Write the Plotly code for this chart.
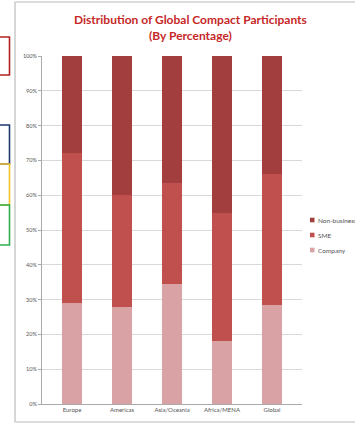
import plotly.graph_objects as go

categories = ["Europe", "Americas", "Asia/Oceania", "Africa/MENA", "Global"]
company = [29, 28, 34.5, 18, 28.5]
sme = [43, 32, 29, 37, 37.5]
non_business = [28, 40, 36.5, 45, 34]
series_names = ["Company", "SME", "Non-business"]
colors = ["#D9A3A6", "#C0504D", "#A33E3E"]
y_ticks = [0, 10, 20, 30, 40, 50, 60, 70, 80, 90, 100]
y_tick_labels = [f"{v}%" for v in y_ticks]

W, H = 355, 425
L, R, T, B = 42, 53, 56, 21
pw, ph = W - L - R, H - T - B

def px(x):
    return (x - L) / pw

def py(y):
    return (H - B - y) / ph

fig = go.Figure()
for name, vals, col in zip(series_names, [company, sme, non_business], colors):
    fig.add_trace(go.Bar(x=categories, y=vals, name=name, marker_color=col,
                         marker_line_width=0, width=0.4, showlegend=False))

shapes = []
annotations = []
# slide frame
shapes.append(dict(type="line", xref="paper", yref="paper", x0=px(15), x1=px(15), y0=py(2), y1=py(422),
                   line=dict(color="#C8C8C8", width=1.5)))
shapes.append(dict(type="line", xref="paper", yref="paper", x0=px(15), x1=px(356), y0=py(2), y1=py(2),
                   line=dict(color="#D0D0D0", width=1.5)))
shapes.append(dict(type="line", xref="paper", yref="paper", x0=px(15), x1=px(356), y0=py(422), y1=py(422),
                   line=dict(color="#D0D0D0", width=1.5)))
# decorative boxes at left edge
for (y0, y1, c) in [(37, 75, "#B22222"), (125, 164, "#1F3A6E"), (164, 205, "#F2C12E"), (205, 245, "#2EAE4E")]:
    shapes.append(dict(type="rect", xref="paper", yref="paper", x0=px(-5), x1=px(9.5), y0=py(y0), y1=py(y1),
                       line=dict(color=c, width=1.6), fillcolor="rgba(0,0,0,0)"))

# manual legend (top entry = last series)
for i, (name, col) in enumerate(zip(series_names[::-1], colors[::-1])):
    yc = 220 + 15 * i
    shapes.append(dict(type="rect", xref="paper", yref="paper", x0=px(310), x1=px(314.5),
                       y0=py(yc - 2.3), y1=py(yc + 2.3), line=dict(width=0), fillcolor=col))
    annotations.append(dict(text=name, xref="paper", yref="paper", x=px(316), y=py(yc),
                            xanchor="left", yanchor="middle", showarrow=False,
                            font=dict(family="Lato", size=6.5, color="#555555")))

# title
annotations.append(dict(text="Distribution of Global Compact Participants<br>(By Percentage)",
                        xref="paper", yref="paper", x=px(190), y=py(28), xanchor="center", yanchor="middle",
                        showarrow=False, align="center",
                        font=dict(family="Lato", size=12, color="#C62828", weight="bold")))

fig.update_layout(
    width=W, height=H,
    margin=dict(l=L, r=R, t=T, b=B, autoexpand=False),
    barmode="stack",
    bargap=0.6,
    paper_bgcolor="white", plot_bgcolor="white",
    showlegend=False,
    xaxis=dict(showline=True, linecolor="#AAAAAA", linewidth=1, ticks="",
               tickfont=dict(family="Lato", size=6, color="#555555"), range=[-0.6, 4.6]),
    yaxis=dict(range=[0, 100], tickvals=y_ticks, ticktext=y_tick_labels,
               showgrid=True, gridcolor="#D9D9D9", gridwidth=1,
               showline=True, linecolor="#AAAAAA", linewidth=1, ticks="outside", ticklen=3,
               tickcolor="#AAAAAA",
               tickfont=dict(family="Lato", size=5.5, color="#555555"), zeroline=False),
    shapes=shapes,
    annotations=annotations,
)
fig.write_html("out.html")
